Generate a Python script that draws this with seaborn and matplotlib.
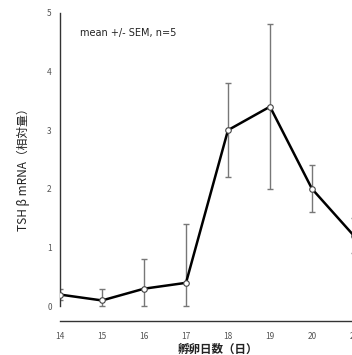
import matplotlib
matplotlib.use("Agg")
import matplotlib.pyplot as plt
import seaborn as sns
import numpy as np
import pandas as pd

days = [14, 15, 16, 17, 18, 19, 20, 21]
means = [0.2, 0.1, 0.3, 0.4, 3.0, 3.4, 2.0, 1.2]
err_low = [0.1, 0.1, 0.3, 0.4, 0.8, 1.4, 0.4, 0.3]
err_high = [0.1, 0.2, 0.5, 1.0, 0.8, 1.4, 0.4, 0.3]
x_ticks = [14, 15, 16, 17, 18, 19, 20, 21]
y_ticks = [0, 1, 2, 3, 4, 5]

sns.set_style("white")
plt.rcParams['font.family'] = ['Noto Sans CJK JP', 'DejaVu Sans']

fig = plt.figure(figsize=(3.52, 3.55), dpi=100)
ax = fig.add_axes([60/352, 34/355, 315/352, 308.3/355])

df = pd.DataFrame({"day": days, "mean": means})
ax.errorbar(days, means, yerr=[err_low, err_high], fmt="none",
            ecolor="#777777", elinewidth=1.0, capsize=2.2, capthick=1.0, zorder=1)
sns.lineplot(data=df, x="day", y="mean", ax=ax, color="black", linewidth=1.8,
             marker="o", markersize=4, markerfacecolor="white",
             markeredgecolor="#444444", markeredgewidth=0.8, zorder=3)

ax.set_xlim(14, 21.5)
ax.set_ylim(-0.25, 5)
ax.set_xticks(x_ticks)
ax.set_yticks(y_ticks)
ax.set_xticklabels([str(t) for t in x_ticks])
ax.set_yticklabels([str(t) for t in y_ticks])

for s in ["top", "right"]:
    ax.spines[s].set_visible(False)
ax.spines["left"].set_bounds(0, 5)
ax.spines["left"].set_color("#333333")
ax.spines["bottom"].set_color("#333333")
ax.spines["left"].set_linewidth(1.0)
ax.spines["bottom"].set_linewidth(1.0)

ax.tick_params(axis="both", direction="in", length=4, width=0.9, color="#333333",
               labelsize=6, labelcolor="#555555")
ax.tick_params(axis="x", pad=8)
ax.tick_params(axis="y", pad=6)

ax.set_xlabel("孵卵日数（日）", fontsize=8.3, fontweight="bold", color="#222222", labelpad=1)
ax.set_ylabel("TSH β mRNA（相対量）", fontsize=8.5, color="#222222", labelpad=12)

ax.text(80/352, 1 - 33/355, "mean +/- SEM, n=5", transform=fig.transFigure,
        fontsize=7, color="#222222", va="center", ha="left", family=["DejaVu Sans"])

fig.savefig("out.png", dpi=100)
